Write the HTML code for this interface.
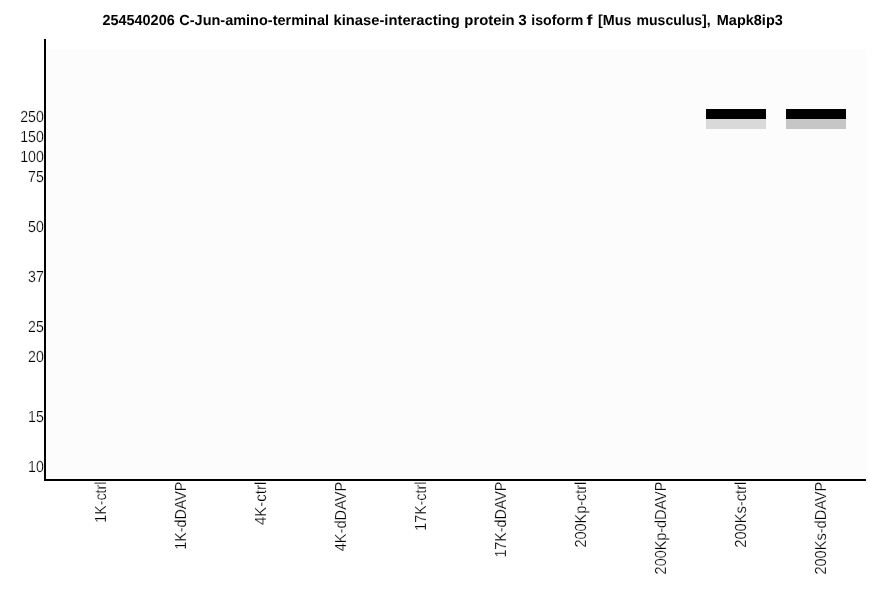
<!DOCTYPE html>
<html><head><meta charset="utf-8"><title>chart</title>
<style>
html,body{margin:0;padding:0;background:#fff;}
body{width:886px;height:595px;overflow:hidden;font-family:"Liberation Sans",sans-serif;}
svg{display:block;will-change:transform;}
text{font-family:"Liberation Sans",sans-serif;fill:#000;text-rendering:geometricPrecision;}
.lb{stroke:#fff;stroke-width:0.22px;}
</style></head><body>
<svg width="886" height="595" viewBox="0 0 886 595">
<rect x="0" y="0" width="886" height="595" fill="#ffffff"/>
<rect x="46" y="49" width="820" height="430" fill="#fcfcfc" shape-rendering="crispEdges"/>
<rect x="706" y="109" width="60" height="10" fill="#000" shape-rendering="crispEdges"/>
<rect x="706" y="119" width="60" height="10" fill="#d9d9d9" shape-rendering="crispEdges"/>
<rect x="786" y="109" width="60" height="10" fill="#000" shape-rendering="crispEdges"/>
<rect x="786" y="119" width="60" height="10" fill="#c5c6c5" shape-rendering="crispEdges"/>
<text x="102.50" y="25" font-size="14.6" font-weight="bold" textLength="72.20" lengthAdjust="spacingAndGlyphs">254540206</text>
<text x="179.30" y="25" font-size="14.6" font-weight="bold" textLength="149.70" lengthAdjust="spacingAndGlyphs">C-Jun-amino-terminal</text>
<text x="333.50" y="25" font-size="14.6" font-weight="bold" textLength="126.30" lengthAdjust="spacingAndGlyphs">kinase-interacting</text>
<text x="464.30" y="25" font-size="14.6" font-weight="bold" textLength="50.40" lengthAdjust="spacingAndGlyphs">protein</text>
<text x="518.30" y="25" font-size="14.6" font-weight="bold" textLength="8.50" lengthAdjust="spacingAndGlyphs">3</text>
<text x="531.30" y="25" font-size="14.6" font-weight="bold" textLength="52.00" lengthAdjust="spacingAndGlyphs">isoform</text>
<text x="586.60" y="25" font-size="14.6" font-weight="bold" textLength="6.00" lengthAdjust="spacingAndGlyphs">f</text>
<text x="598.00" y="25" font-size="14.6" font-weight="bold" textLength="33.40" lengthAdjust="spacingAndGlyphs">[Mus</text>
<text x="636.50" y="25" font-size="14.6" font-weight="bold" textLength="74.20" lengthAdjust="spacingAndGlyphs">musculus],</text>
<text x="716.80" y="25" font-size="14.6" font-weight="bold" textLength="66.00" lengthAdjust="spacingAndGlyphs">Mapk8ip3</text>
<text class="lb" x="43.8" y="122" text-anchor="end" font-size="16" textLength="23.63" lengthAdjust="spacingAndGlyphs">250</text>
<text class="lb" x="43.8" y="142" text-anchor="end" font-size="16" textLength="23.63" lengthAdjust="spacingAndGlyphs">150</text>
<text class="lb" x="43.8" y="162" text-anchor="end" font-size="16" textLength="23.63" lengthAdjust="spacingAndGlyphs">100</text>
<text class="lb" x="43.8" y="182" text-anchor="end" font-size="16" textLength="15.75" lengthAdjust="spacingAndGlyphs">75</text>
<text class="lb" x="43.8" y="232" text-anchor="end" font-size="16" textLength="15.75" lengthAdjust="spacingAndGlyphs">50</text>
<text class="lb" x="43.8" y="282" text-anchor="end" font-size="16" textLength="15.75" lengthAdjust="spacingAndGlyphs">37</text>
<text class="lb" x="43.8" y="332" text-anchor="end" font-size="16" textLength="15.75" lengthAdjust="spacingAndGlyphs">25</text>
<text class="lb" x="43.8" y="362" text-anchor="end" font-size="16" textLength="15.75" lengthAdjust="spacingAndGlyphs">20</text>
<text class="lb" x="43.8" y="422" text-anchor="end" font-size="16" textLength="15.75" lengthAdjust="spacingAndGlyphs">15</text>
<text class="lb" x="43.8" y="472" text-anchor="end" font-size="16" textLength="15.75" lengthAdjust="spacingAndGlyphs">10</text>
<text class="lb" transform="translate(106,481.7) rotate(-90)" x="0" y="0" text-anchor="end" font-size="16" textLength="41.03" lengthAdjust="spacingAndGlyphs">1K-ctrl</text>
<text class="lb" transform="translate(186,481.7) rotate(-90)" x="0" y="0" text-anchor="end" font-size="16" textLength="67.98" lengthAdjust="spacingAndGlyphs">1K-dDAVP</text>
<text class="lb" transform="translate(266,481.7) rotate(-90)" x="0" y="0" text-anchor="end" font-size="16" textLength="43.27" lengthAdjust="spacingAndGlyphs">4K-ctrl</text>
<text class="lb" transform="translate(346,481.7) rotate(-90)" x="0" y="0" text-anchor="end" font-size="16" textLength="69.60" lengthAdjust="spacingAndGlyphs">4K-dDAVP</text>
<text class="lb" transform="translate(426,481.7) rotate(-90)" x="0" y="0" text-anchor="end" font-size="16" textLength="48.97" lengthAdjust="spacingAndGlyphs">17K-ctrl</text>
<text class="lb" transform="translate(506,481.7) rotate(-90)" x="0" y="0" text-anchor="end" font-size="16" textLength="75.92" lengthAdjust="spacingAndGlyphs">17K-dDAVP</text>
<text class="lb" transform="translate(586,481.7) rotate(-90)" x="0" y="0" text-anchor="end" font-size="16" textLength="65.85" lengthAdjust="spacingAndGlyphs">200Kp-ctrl</text>
<text class="lb" transform="translate(666,481.7) rotate(-90)" x="0" y="0" text-anchor="end" font-size="16" textLength="92.69" lengthAdjust="spacingAndGlyphs">200Kp-dDAVP</text>
<text class="lb" transform="translate(746,481.7) rotate(-90)" x="0" y="0" text-anchor="end" font-size="16" textLength="66.05" lengthAdjust="spacingAndGlyphs">200Ks-ctrl</text>
<text class="lb" transform="translate(826,481.7) rotate(-90)" x="0" y="0" text-anchor="end" font-size="16" textLength="92.90" lengthAdjust="spacingAndGlyphs">200Ks-dDAVP</text>
<rect x="44" y="39" width="2" height="442" fill="#000" shape-rendering="crispEdges"/>
<rect x="44" y="479" width="822" height="2" fill="#000" shape-rendering="crispEdges"/>
</svg>
</body></html>
